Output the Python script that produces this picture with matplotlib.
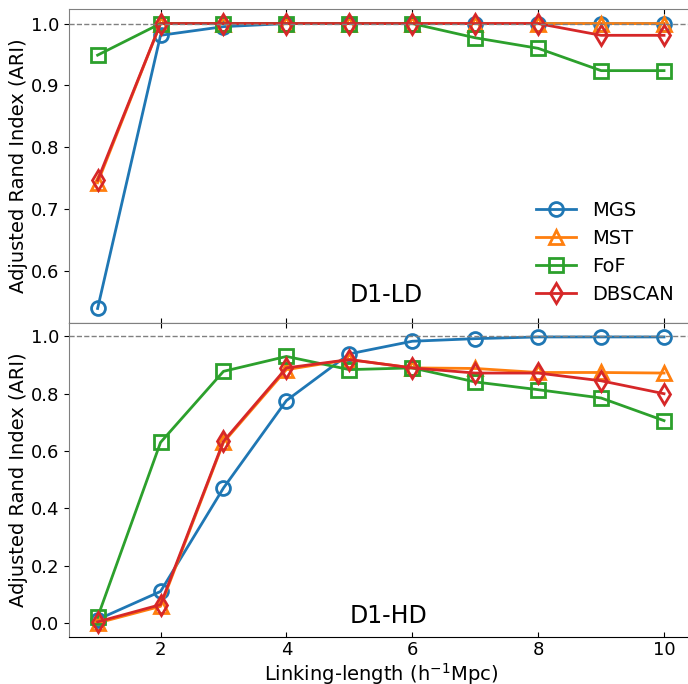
import numpy as np
import matplotlib
matplotlib.use('Agg')
import matplotlib.pyplot as plt

# linking length in h^-1 Mpc
ll = [1, 2, 3, 4, 5, 6, 7, 8, 9, 10]

# D1-LD ARI
ld_mgs = [0.540, 0.981, 0.995, 1.0, 1.0, 1.0, 1.0, 1.0, 1.0, 1.0]
ld_mst = [0.743, 1.0, 1.0, 1.0, 1.0, 1.0, 1.0, 1.0, 1.0, 1.0]
ld_fof = [0.949, 1.0, 1.0, 1.0, 1.0, 1.0, 0.977, 0.960, 0.924, 0.924]
ld_dbscan = [0.747, 1.0, 1.0, 1.0, 1.0, 1.0, 1.0, 1.0, 0.981, 0.981]

# D1-HD ARI
hd_mgs = [0.012, 0.110, 0.471, 0.776, 0.939, 0.983, 0.992, 0.998, 0.998, 0.998]
hd_mst = [0.0, 0.058, 0.630, 0.884, 0.919, 0.890, 0.888, 0.874, 0.874, 0.872]
hd_fof = [0.020, 0.630, 0.878, 0.930, 0.884, 0.890, 0.841, 0.814, 0.785, 0.706]
hd_dbscan = [0.004, 0.064, 0.634, 0.890, 0.919, 0.890, 0.872, 0.872, 0.845, 0.800]

names = ['MGS', 'MST', 'FoF', 'DBSCAN']
marks = ['o', '^', 's', 'd']

fig = plt.figure(figsize=(6.88, 6.84), dpi=100)
ax1 = fig.add_axes([0.1007, 0.5282, 0.9056, 0.4582])
ax2 = fig.add_axes([0.1007, 0.0683, 0.9056, 0.4600], sharex=ax1)

panels = [(ax1, [ld_mgs, ld_mst, ld_fof, ld_dbscan], 'D1-LD', 0.55),
          (ax2, [hd_mgs, hd_mst, hd_fof, hd_dbscan], 'D1-HD', 0.0)]

for ax, sets, tag, ty in panels:
    for i, (vals, nm, mk) in enumerate(zip(sets, names, marks)):
        ax.plot(ll, vals, color='C%d' % i, marker=mk, ms=10, mew=2,
                mfc='none', lw=2, label=nm)
    ax.axhline(1.0, color='gray', ls='--', lw=1)
    ax.text(5, ty, tag, fontsize=17, ha='left', va='baseline')
    ax.set_ylabel('Adjusted Rand Index (ARI)', fontsize=14, labelpad=2.5)
    ax.tick_params(axis='x', direction='in', top=True, labelsize=13, pad=3)
    ax.tick_params(axis='y', direction='out', labelsize=13)
    ax.spines['left'].set_color('gray')
    ax.spines['top'].set_color('gray')

ax1.tick_params(axis='x', labelbottom=False)
ax2.set_xlabel(r'Linking-length (h$^{-1}$Mpc)', fontsize=14, labelpad=1)
ax2.set_xticks([2, 4, 6, 8, 10])

ax1.legend(loc='lower left', bbox_to_anchor=(0.736, 0.035), borderaxespad=0,
           frameon=False, fontsize=14, handlelength=2.1, labelspacing=0.47)

fig.savefig('out.png', dpi=100)
